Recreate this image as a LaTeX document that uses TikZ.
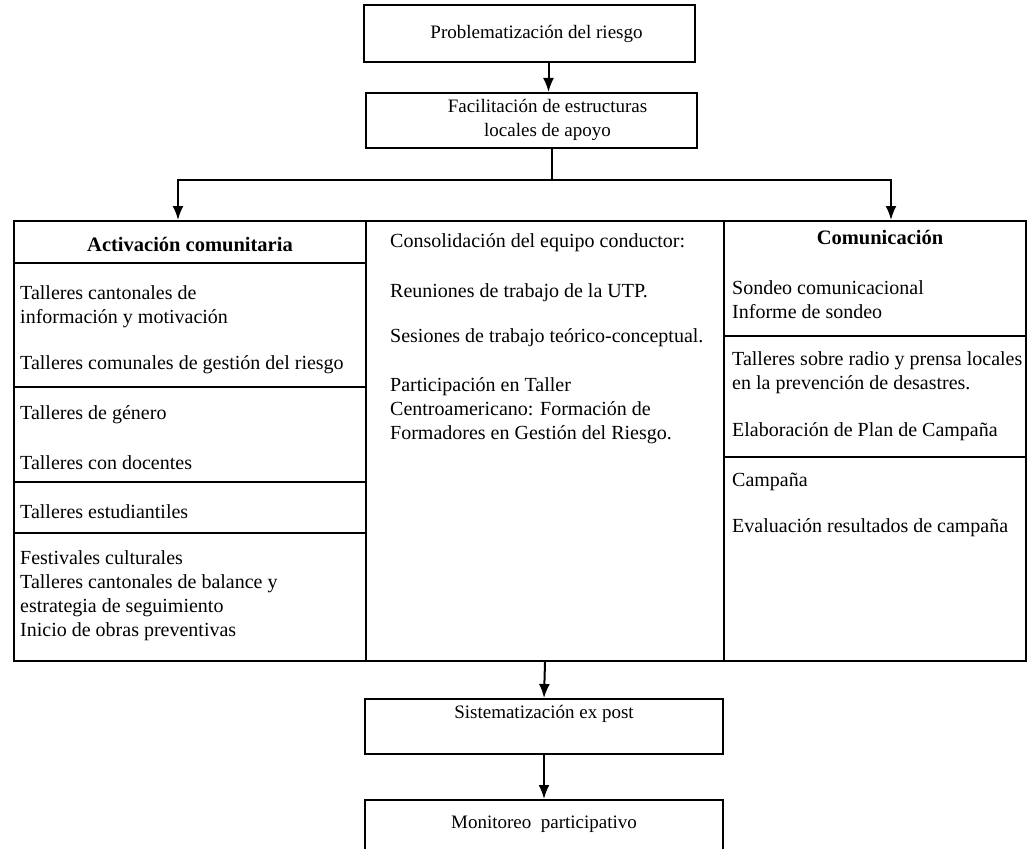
\documentclass[tikz,border=0pt]{standalone}
\usepackage{fontspec}
\setmainfont{Liberation Serif}
\usepackage{tikz}
\usetikzlibrary{positioning,arrows.meta,calc}

\begin{document}
\begin{tikzpicture}[
    x=1pt, y=-1pt,
    every node/.style={font=\fontsize{20}{24}\selectfont},
    box/.style={draw, line width=2pt, align=center, inner sep=0pt},
    boxtext/.style={font=\fontsize{19}{24}\selectfont, align=center, inner sep=0pt},
    colbox/.style={draw, line width=2pt, inner sep=0pt, anchor=north west, minimum height=440pt},
    item/.style={anchor=west, align=left, inner sep=0pt},
    head/.style={font=\fontsize{20.5}{24}\selectfont\bfseries, inner sep=0pt},
    sep/.style={line width=1.2pt},
    arrow/.style={-{Latex[length=14pt,width=11pt]}, line width=2pt},
    line/.style={line width=2pt}
]
\useasboundingbox (0,0) rectangle (1035,848);
\clip (0,0) rectangle (1035,848);
\node[box, minimum width=331pt, minimum height=57pt] (prob) at (529.5,33.5) {};
\node[boxtext] (probT) at ($(prob.center)+(7,0)$) {Problematización del riesgo};
\node[box, minimum width=331pt, minimum height=55pt] (fac) at (531.5,120.5) {};
\node[boxtext] (facT) at ($(fac.center)+(16,-1)$) {Facilitación de estructuras\\locales de apoyo};
\draw[arrow] ([xshift=19pt]prob.south) -- ([xshift=19pt]prob.south |- fac.north);
\node[colbox, minimum width=352pt] (colA) at (13,220) {};
\node[colbox, minimum width=358pt] (colB) at (365,220) {};
\node[colbox, minimum width=302pt] (colC) at (723,220) {};
\coordinate (split) at (552,180);
\draw[line] ([xshift=20.5pt]fac.south) -- (split);
\draw[arrow] (split) -| ([xshift=-12pt]colA.north);
\draw[arrow] (split) -| ([xshift=16pt]colC.north);
\node[head] (headA) at (190,245) {Activación comunitaria};
\node[head] (headC) at (880,238) {Comunicación};
\foreach \y in {263,387,482,533} {
    \draw[sep] (13,\y) -- (365,\y);
}
\foreach \y in {336,457} {
    \draw[sep] (723,\y) -- (1025,\y);
}
\foreach \n/\y/\t in {a1/306.5/{Talleres cantonales de\\información y motivación},
                      a2/365/{Talleres comunales de gestión del riesgo},
                      a3/415/{Talleres de género},
                      a4/463/{Talleres con docentes},
                      a5/512/{Talleres estudiantiles},
                      a6/596/{Festivales culturales\\Talleres cantonales de balance y\\estrategia de seguimiento\\Inicio de obras preventivas}} {
    \node[item] (\n) at (20,\y) {\t};
}
\foreach \n/\y/\t in {b1/243/{Consolidación del equipo conductor:},
                      b2/293/{Reuniones de trabajo de la UTP.},
                      b3/338/{Sesiones de trabajo teórico-conceptual.},
                      b4/411/{Participación en Taller\\Centroamericano: Formación de\\Formadores en Gestión del Riesgo.}} {
    \node[item] (\n) at (390,\y) {\t};
}
\foreach \n/\y/\t in {c1/299.5/{Sondeo comunicacional\\Informe de sondeo},
                      c2/372.5/{Talleres sobre radio y prensa locales\\en la prevención de desastres.},
                      c3/432/{Elaboración de Plan de Campaña},
                      c4/482/{Campaña},
                      c5/528/{Evaluación resultados de campaña}} {
    \node[item] (\n) at (732,\y) {\t};
}
\node[box, anchor=north, minimum width=358pt, inner ysep=6pt, text height=13pt, text depth=30pt,
      font=\fontsize{19}{24}\selectfont] (sist) at (544,698) {Sistematización ex post};
\draw[arrow] (colB.south) -- (sist.north);
\node[box, anchor=north, minimum width=358pt, inner ysep=6pt, text height=22pt, text depth=30pt,
      font=\fontsize{19}{24}\selectfont] (monit) at (544,799) {Monitoreo\ \ participativo};
\draw[arrow] (sist.south) -- (monit.north);
\end{tikzpicture}
\end{document}
